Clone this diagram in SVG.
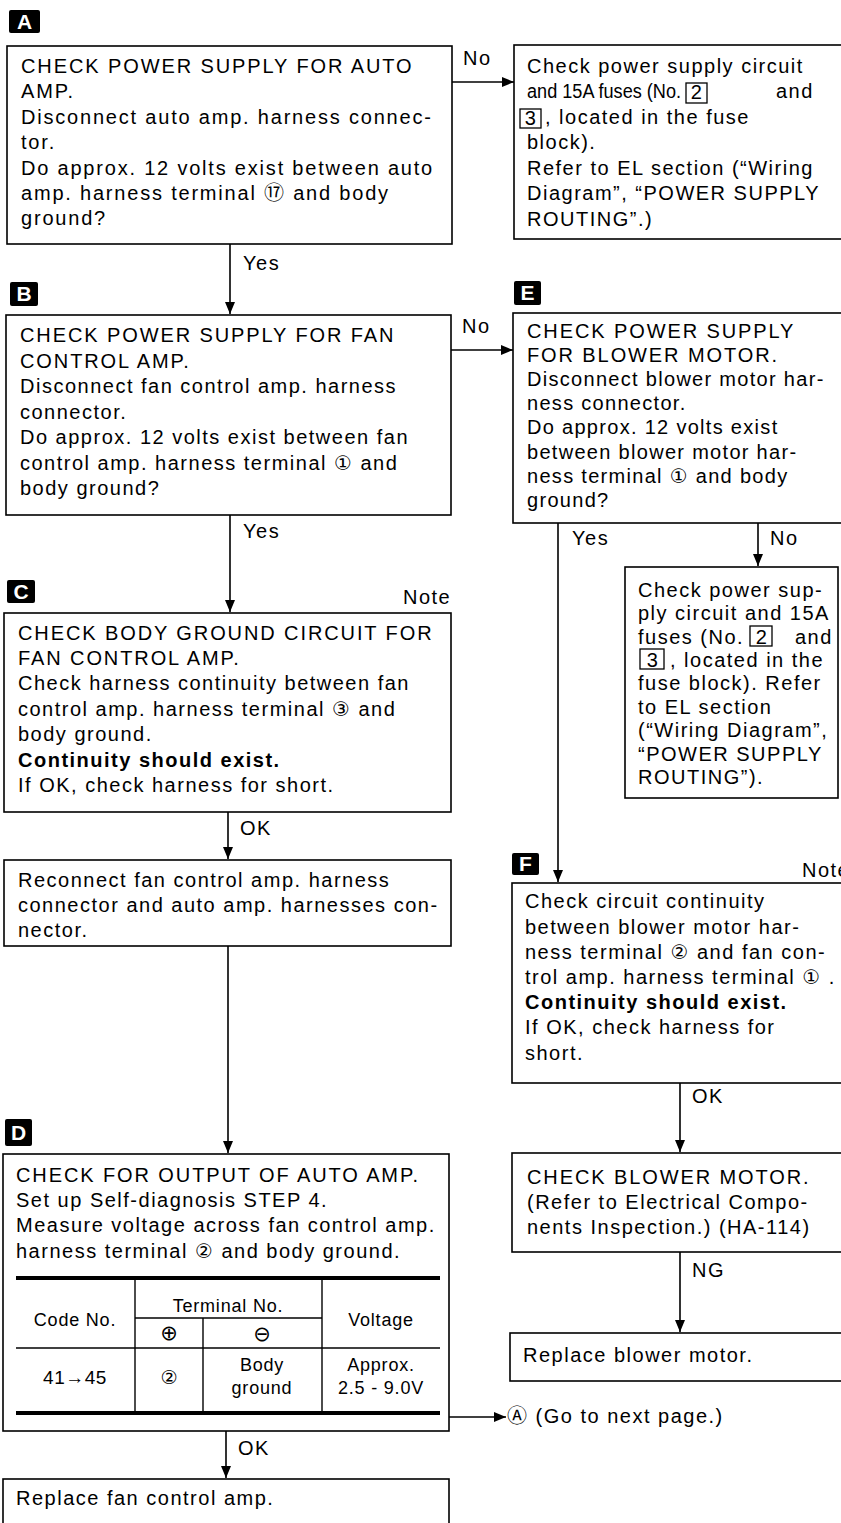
<svg xmlns="http://www.w3.org/2000/svg" width="841" height="1523" viewBox="0 0 841 1523">
<style>
.t{font-family:"Liberation Sans","DejaVu Sans","Noto Sans CJK JP",sans-serif;font-size:20px;letter-spacing:1.5px;fill:#000}
.a{letter-spacing:1.8px}
.u{letter-spacing:1.9px}
.e{letter-spacing:1.3px}
.s{font-size:18px;letter-spacing:0.8px}
.bd{font-weight:bold}
.box{fill:#fff;stroke:#000;stroke-width:1.6}
.ln{stroke:#000;stroke-width:1.6;fill:none}
.thick{stroke:#000;stroke-width:4;fill:none}
.thin{stroke:#000;stroke-width:1.4;fill:none}
.fb{fill:none;stroke:#000;stroke-width:1.3}
.lb{fill:#000}
.lt{font-family:"Liberation Sans","DejaVu Sans",sans-serif;font-size:21px;font-weight:bold;fill:#fff;text-anchor:middle}
.m{text-anchor:middle}
</style>
<defs>
<marker id="ah" viewBox="0 0 12 10" refX="12" refY="5" markerWidth="12" markerHeight="10" markerUnits="userSpaceOnUse" orient="auto">
<path d="M0,0 L12,5 L0,10 Z" fill="#000"/>
</marker>
</defs>
<rect width="841" height="1523" fill="#fff"/>

<g id="connectors">
<line class="ln" x1="452" y1="82" x2="514" y2="82" marker-end="url(#ah)"/>
<text class="t" x="463" y="65">No</text>
<line class="ln" x1="230" y1="244" x2="230" y2="314" marker-end="url(#ah)"/>
<text class="t" x="243" y="270">Yes</text>
<line class="ln" x1="451" y1="350" x2="513" y2="350" marker-end="url(#ah)"/>
<text class="t" x="462" y="333">No</text>
<line class="ln" x1="230" y1="515" x2="230" y2="612" marker-end="url(#ah)"/>
<text class="t" x="243" y="538">Yes</text>
<line class="ln" x1="758" y1="523" x2="758" y2="566" marker-end="url(#ah)"/>
<text class="t" x="770" y="545">No</text>
<line class="ln" x1="558" y1="523" x2="558" y2="882" marker-end="url(#ah)"/>
<text class="t" x="572" y="545">Yes</text>
<line class="ln" x1="228" y1="812" x2="228" y2="859" marker-end="url(#ah)"/>
<text class="t" x="240" y="835">OK</text>
<line class="ln" x1="228" y1="946" x2="228" y2="1153" marker-end="url(#ah)"/>
<line class="ln" x1="226" y1="1431" x2="226" y2="1478" marker-end="url(#ah)"/>
<text class="t" x="238" y="1455">OK</text>
<line class="ln" x1="449" y1="1417" x2="506" y2="1417" marker-end="url(#ah)"/>
<line class="ln" x1="680" y1="1083" x2="680" y2="1152" marker-end="url(#ah)"/>
<text class="t" x="692" y="1103">OK</text>
<line class="ln" x1="680" y1="1252" x2="680" y2="1332" marker-end="url(#ah)"/>
<text class="t" x="692" y="1277">NG</text>
</g>

<g id="nodeA">
<rect class="lb" x="9" y="10" width="31" height="23" rx="2"/>
<text class="lt" x="24.5" y="29">A</text>
<rect class="box" x="7" y="46" width="445" height="198"/>
<text class="t u" x="21" y="73">CHECK POWER SUPPLY FOR AUTO</text>
<text class="t u" x="21" y="98">AMP.</text>
<text class="t a" x="21" y="124">Disconnect auto amp. harness connec-</text>
<text class="t a" x="21" y="149">tor.</text>
<text class="t a" x="21" y="175">Do approx. 12 volts exist between auto</text>
<text class="t a" x="21" y="200">amp. harness terminal ⑰ and body</text>
<text class="t a" x="21" y="225">ground?</text>
</g>

<g id="nodeA_No">
<rect class="box" x="514" y="45" width="335" height="194"/>
<text class="t" x="527" y="73">Check power supply circuit</text>
<text class="t" x="527" y="98" style="letter-spacing:0" textLength="154" lengthAdjust="spacingAndGlyphs">and 15A fuses (No.</text>
<rect class="fb" x="686" y="83" width="21" height="20"/>
<text class="t m" x="697" y="99">2</text>
<text class="t" x="776" y="98">and</text>
<rect class="fb" x="520" y="109" width="21" height="19"/>
<text class="t m" x="531" y="125">3</text>
<text class="t" x="545" y="124">, located in the fuse</text>
<text class="t" x="527" y="149">block).</text>
<text class="t" x="527" y="175">Refer to EL section (“Wiring</text>
<text class="t" x="527" y="200">Diagram”, “POWER SUPPLY</text>
<text class="t" x="527" y="226">ROUTING”.)</text>
</g>

<g id="nodeB">
<rect class="lb" x="10" y="282" width="28" height="24" rx="2"/>
<text class="lt" x="24" y="301">B</text>
<rect class="box" x="6" y="315" width="445" height="200"/>
<text class="t u" x="20" y="342">CHECK POWER SUPPLY FOR FAN</text>
<text class="t u" x="20" y="368">CONTROL AMP.</text>
<text class="t" x="20" y="393">Disconnect fan control amp. harness</text>
<text class="t" x="20" y="419">connector.</text>
<text class="t" x="20" y="444">Do approx. 12 volts exist between fan</text>
<text class="t" x="20" y="470">control amp. harness terminal ①  and</text>
<text class="t" x="20" y="495">body ground?</text>
</g>

<g id="nodeE">
<rect class="lb" x="514" y="281" width="27" height="24" rx="2"/>
<text class="lt" x="527.5" y="300">E</text>
<rect class="box" x="513" y="313" width="336" height="210"/>
<text class="t u" x="527" y="338">CHECK POWER SUPPLY</text>
<text class="t u" x="527" y="362">FOR BLOWER MOTOR.</text>
<text class="t e" x="527" y="386">Disconnect blower motor har-</text>
<text class="t e" x="527" y="410">ness connector.</text>
<text class="t e" x="527" y="434">Do approx. 12 volts exist</text>
<text class="t e" x="527" y="459">between blower motor har-</text>
<text class="t e" x="527" y="483">ness terminal ①  and body</text>
<text class="t e" x="527" y="507">ground?</text>
</g>

<g id="nodeE_No">
<rect class="box" x="625" y="567" width="213" height="231"/>
<text class="t" x="638" y="597">Check power sup-</text>
<text class="t" x="638" y="620">ply circuit and 15A</text>
<text class="t" x="638" y="644">fuses (No.</text>
<rect class="fb" x="750" y="626" width="22" height="20"/>
<text class="t m" x="762" y="644">2</text>
<text class="t" x="795" y="644">and</text>
<rect class="fb" x="640" y="649" width="24" height="20"/>
<text class="t m" x="653" y="667">3</text>
<text class="t" x="670" y="667">, located in the</text>
<text class="t" x="638" y="690">fuse block). Refer</text>
<text class="t" x="638" y="714">to EL section</text>
<text class="t" x="638" y="737">(“Wiring Diagram”,</text>
<text class="t" x="638" y="761">“POWER SUPPLY</text>
<text class="t" x="638" y="784">ROUTING”).</text>
</g>

<g id="nodeC">
<rect class="lb" x="7" y="580" width="28" height="23" rx="2"/>
<text class="lt" x="21" y="599">C</text>
<text class="t" x="403" y="604">Note</text>
<rect class="box" x="4" y="613" width="447" height="199"/>
<text class="t u" x="18" y="640">CHECK BODY GROUND CIRCUIT FOR</text>
<text class="t u" x="18" y="665">FAN CONTROL AMP.</text>
<text class="t" x="18" y="690">Check harness continuity between fan</text>
<text class="t" x="18" y="716">control amp. harness terminal ③  and</text>
<text class="t" x="18" y="741">body ground.</text>
<text class="t bd" x="18" y="767">Continuity should exist.</text>
<text class="t" x="18" y="792">If OK, check harness for short.</text>
</g>

<g id="nodeReconnect">
<rect class="box" x="4" y="860" width="447" height="86"/>
<text class="t" x="18" y="887">Reconnect fan control amp. harness</text>
<text class="t" x="18" y="912">connector and auto amp. harnesses con-</text>
<text class="t" x="18" y="937">nector.</text>
</g>

<g id="nodeF">
<rect class="lb" x="512" y="853" width="27" height="22" rx="2"/>
<text class="lt" x="525.5" y="871">F</text>
<text class="t" x="802" y="877">Note</text>
<rect class="box" x="512" y="883" width="337" height="200"/>
<text class="t" x="525" y="908">Check circuit continuity</text>
<text class="t" x="525" y="934">between blower motor har-</text>
<text class="t" x="525" y="959">ness terminal ②  and fan con-</text>
<text class="t" x="525" y="984">trol amp. harness terminal ① .</text>
<text class="t bd" x="525" y="1009">Continuity should exist.</text>
<text class="t" x="525" y="1034">If OK, check harness for</text>
<text class="t" x="525" y="1060">short.</text>
</g>

<g id="nodeCheckBlower">
<rect class="box" x="512" y="1153" width="337" height="99"/>
<text class="t u" x="527" y="1184">CHECK BLOWER MOTOR.</text>
<text class="t" x="527" y="1209">(Refer to Electrical Compo-</text>
<text class="t" x="527" y="1234">nents Inspection.) (HA-114)</text>
</g>

<g id="nodeReplaceBlower">
<rect class="box" x="510" y="1333" width="339" height="48"/>
<text class="t" x="523" y="1362">Replace blower motor.</text>
</g>

<g id="nodeD">
<rect class="lb" x="5" y="1119" width="27" height="27" rx="2"/>
<text class="lt" x="18.5" y="1140">D</text>
<rect class="box" x="3" y="1154" width="446" height="277"/>
<text class="t u" x="16" y="1182">CHECK FOR OUTPUT OF AUTO AMP.</text>
<text class="t" x="16" y="1207">Set up Self-diagnosis STEP 4.</text>
<text class="t" x="16" y="1232">Measure voltage across fan control amp.</text>
<text class="t" x="16" y="1258">harness terminal ②  and body ground.</text>
<line class="thick" x1="16" y1="1278" x2="440" y2="1278"/>
<line class="thin" x1="135" y1="1278" x2="135" y2="1413"/>
<line class="thin" x1="322" y1="1278" x2="322" y2="1413"/>
<line class="thin" x1="135" y1="1318" x2="322" y2="1318"/>
<line class="thin" x1="203" y1="1318" x2="203" y2="1413"/>
<line class="thin" x1="16" y1="1348" x2="440" y2="1348"/>
<line class="thick" x1="16" y1="1413" x2="440" y2="1413"/>
<text class="t s m" x="75" y="1326">Code No.</text>
<text class="t s m" x="228" y="1312">Terminal No.</text>
<text class="t s m" x="381" y="1326">Voltage</text>
<text class="t m" x="169" y="1340" style="font-size:21px;letter-spacing:0">⊕</text>
<text class="t m" x="262" y="1341" style="font-size:21px;letter-spacing:0">⊖</text>
<text class="t m" x="75" y="1384" style="font-size:19px;letter-spacing:0.5px">41→45</text>
<text class="t m" x="169" y="1384" style="font-size:19px;letter-spacing:0">②</text>
<text class="t s m" x="262" y="1371">Body</text>
<text class="t s m" x="262" y="1394">ground</text>
<text class="t s m" x="381" y="1371">Approx.</text>
<text class="t s m" x="381" y="1394">2.5 - 9.0V</text>
</g>

<g id="nodeNextPage">
<text class="t" x="507" y="1423">Ⓐ (Go to next page.)</text>
</g>

<g id="nodeReplaceFan">
<rect class="box" x="3" y="1479" width="446" height="60"/>
<text class="t" x="16" y="1505">Replace fan control amp.</text>
</g>
</svg>
